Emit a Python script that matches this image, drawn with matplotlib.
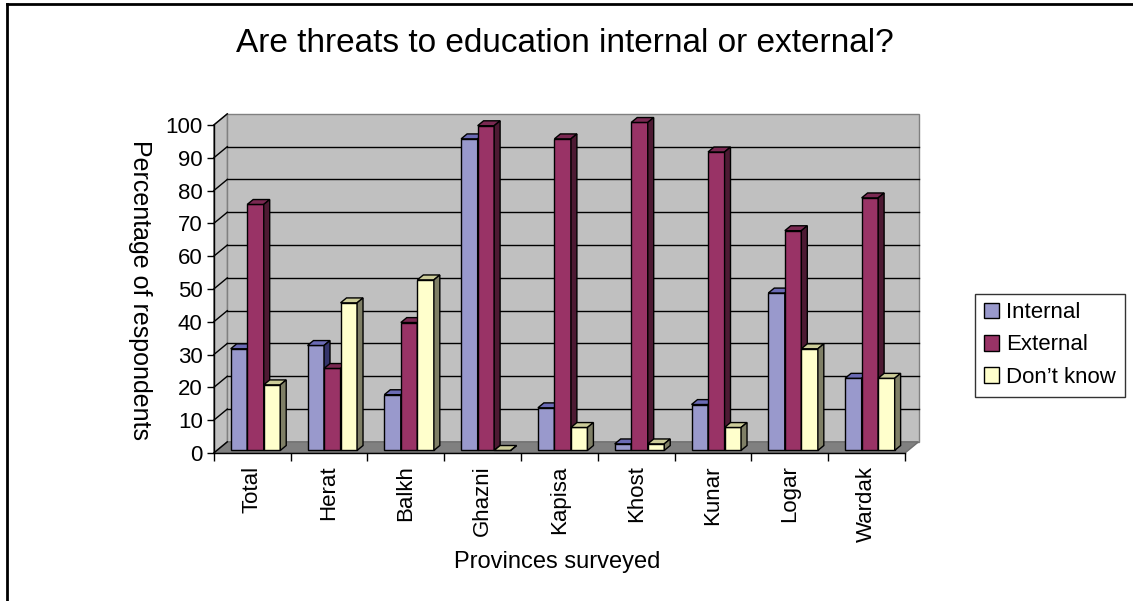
import numpy as np
import matplotlib.pyplot as plt
from matplotlib.patches import Polygon, Patch
from matplotlib.lines import Line2D

provinces = ['Total', 'Herat', 'Balkh', 'Ghazni', 'Kapisa', 'Khost', 'Kunar', 'Logar', 'Wardak']
internal = [31, 32, 17, 95, 13, 2, 14, 48, 22]
external = [75, 25, 39, 99, 95, 100, 91, 67, 77]
dont_know = [20, 45, 52, 0, 7, 2, 7, 31, 22]
series_names = ['Internal', 'External', 'Don\u2019t know']
yticks = list(range(0, 101, 10))

# front / top / side shades of each series
face_colors = ['#9999CC', '#993366', '#FFFFCC']
top_colors = ['#6B6BB5', '#7A2952', '#CCCC99']
side_colors = ['#34346B', '#4D1A33', '#7F7F66']

plt.rcParams['font.family'] = ['Liberation Sans', 'DejaVu Sans']

W, H = 1133, 601
fig = plt.figure(figsize=(W / 100, H / 100), dpi=100)
ax = fig.add_axes([213.8 / W, 148 / H, 691.2 / W, 328 / H])
ncat = len(provinces)
ax.set_xlim(0, ncat)
ax.set_ylim(0, 100)

# depth of the box in data units
dx, dy = 0.176, 3.4

wall_kw = dict(facecolor='#C0C0C0', edgecolor='#808080', lw=1, clip_on=False)
ax.add_patch(Polygon([(dx, dy), (ncat + dx, dy), (ncat + dx, 100 + dy), (dx, 100 + dy)],
                     zorder=0, **wall_kw))
ax.add_patch(Polygon([(0, 0), (dx, dy), (dx, 100 + dy), (0, 100)], zorder=0, **wall_kw))
ax.add_patch(Polygon([(0, 0), (ncat, 0), (ncat + dx, dy), (dx, dy)],
                     facecolor='#808080', edgecolor='#6E6E6E', lw=1, zorder=0.5, clip_on=False))
for v in yticks[1:-1]:
    ax.plot([dx, ncat + dx], [v + dy, v + dy], color='black', lw=1, zorder=0.6, clip_on=False)
for v in yticks:
    ax.plot([0, dx], [v, v + dy], color='black', lw=1, zorder=0.6, clip_on=False)

# 3-D style columns
bw = 0.215
f0, fd = 0.23, 0.44
bx, by = f0 * dx, f0 * dy
ddx, ddy = fd * dx, fd * dy
xpos = np.arange(ncat)
for k, vals in enumerate([internal, external, dont_know]):
    lefts = xpos + 0.18 + k * bw + bx
    bars = ax.bar(lefts, vals, bw, bottom=by, align='edge',
                  color=face_colors[k], edgecolor='black', lw=1, clip_on=False)
    for i, (rect, v) in enumerate(zip(bars, vals)):
        z = 2 + i * 3 + k
        rect.set_zorder(z)
        x0, x1 = lefts[i], lefts[i] + bw
        y0, y1 = by, by + v
        ax.add_patch(Polygon([(x0, y1), (x1, y1), (x1 + ddx, y1 + ddy), (x0 + ddx, y1 + ddy)],
                             facecolor=top_colors[k], edgecolor='black', lw=1, zorder=z,
                             clip_on=False))
        ax.add_patch(Polygon([(x1, y0), (x1 + ddx, y0 + ddy), (x1 + ddx, y1 + ddy), (x1, y1)],
                             facecolor=side_colors[k], edgecolor='black', lw=1, zorder=z,
                             clip_on=False))

for s in ['top', 'right']:
    ax.spines[s].set_visible(False)
for s in ['left', 'bottom']:
    ax.spines[s].set_zorder(50)
    ax.spines[s].set_linewidth(1)

ax.set_yticks(yticks)
ax.tick_params(axis='y', direction='out', length=5, width=1, pad=3, labelsize=16)
ax.set_xticks(np.arange(ncat + 1))
ax.set_xticklabels([])
ax.tick_params(axis='x', which='major', direction='out', length=6, width=1)
ax.set_xticks(xpos + 0.5, minor=True)
ax.set_xticklabels(provinces, minor=True, rotation=90, fontsize=16)
ax.tick_params(axis='x', which='minor', length=0, pad=9)

fig.text(565 / W, 1 - 43 / H, 'Are threats to education internal or external?',
         fontsize=24, ha='center', va='center')
fig.text(140 / W, 1 - 290 / H, 'Percentage of respondents', fontsize=18,
         rotation=270, ha='center', va='center')
fig.text(557 / W, 1 - 562 / H, 'Provinces surveyed', fontsize=17, ha='center', va='center')

handles = [Patch(facecolor=c, edgecolor='black', lw=1) for c in face_colors]
leg = fig.legend(handles, series_names, loc='center left',
                 bbox_to_anchor=(975 / W, 1 - 345 / H), fontsize=16,
                 frameon=True, fancybox=False, handlelength=0.7, handleheight=0.7,
                 handletextpad=0.3, labelspacing=0.5, borderpad=0.4, borderaxespad=0)
leg.get_frame().set_edgecolor('black')
leg.get_frame().set_linewidth(1)

# outer chart border
fig.add_artist(Line2D([7 / W, 7 / W], [0, 1 - 4 / H], color='black', lw=2, transform=fig.transFigure))
fig.add_artist(Line2D([7 / W, 1], [1 - 4 / H, 1 - 4 / H], color='black', lw=2, transform=fig.transFigure))

fig.savefig('out.png', dpi=100)
